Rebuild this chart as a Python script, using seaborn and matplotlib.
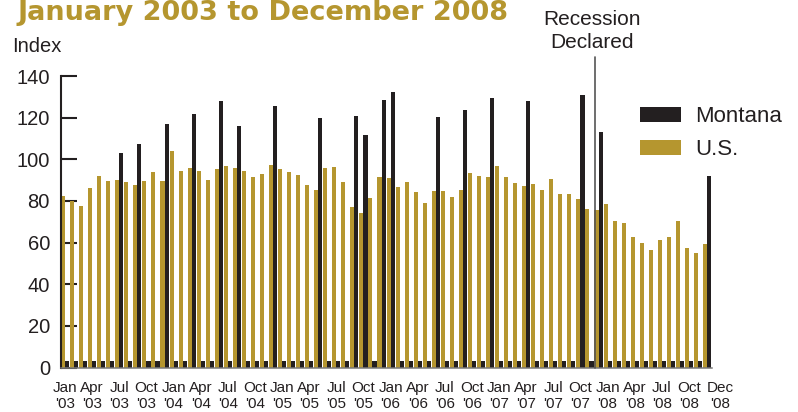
import matplotlib
matplotlib.use('Agg')
import matplotlib.pyplot as plt
import seaborn as sns
import pandas as pd
from matplotlib.transforms import ScaledTranslation

GOLD = '#B5962F'
BLACK = '#231F20'

# 72 months, Jan 2003 .. Dec 2008
months = list(pd.date_range('2003-01-01', periods=72, freq='MS').strftime('%Y-%m'))

us = [82.2, 79.8, 77.5, 86.2, 91.8, 89.4, 89.9, 88.9, 87.5, 89.4, 93.8, 89.4,
      104.0, 94.2, 95.7, 94.2, 89.9, 95.2, 96.6, 95.7, 94.2, 91.3, 92.8, 97.1,
      95.2, 93.8, 92.3, 87.5, 85.1, 95.7, 96.2, 88.9, 76.9, 74.0, 81.2, 91.3,
      90.9, 86.5, 88.9, 84.1, 78.8, 84.6, 84.6, 81.7, 85.1, 93.3, 91.8, 91.3,
      96.6, 91.3, 88.5, 87.0, 88.0, 85.1, 90.4, 83.2, 83.2, 80.8, 75.9, 75.5,
      78.3, 70.6, 69.2, 62.5, 59.6, 56.2, 61.0, 62.9, 70.2, 57.6, 55.2, 59.1]

montana = [3, 3, 3, 3, 3, 3, 102.9, 3, 107.2, 3, 3, 116.9,
           3, 3, 121.7, 3, 3, 128.0, 3, 115.9, 3, 3, 3, 125.5,
           3, 3, 3, 3, 119.8, 3, 3, 3, 120.7, 111.6, 3, 128.4,
           132.3, 3, 3, 3, 3, 120.2, 3, 3, 123.6, 3, 3, 129.4,
           3, 3, 3, 127.9, 3, 3, 3, 3, 3, 130.8, 3, 113.0,
           3, 3, 3, 3, 3, 3, 3, 3, 3, 3, 3, 91.8]

tick_months = ['2003-01', '2003-04', '2003-07', '2003-10',
               '2004-01', '2004-04', '2004-07', '2004-10',
               '2005-01', '2005-04', '2005-07', '2005-10',
               '2006-01', '2006-04', '2006-07', '2006-10',
               '2007-01', '2007-04', '2007-07', '2007-10',
               '2008-01', '2008-04', '2008-07', '2008-10', '2008-12']
tick_labels = ["Jan\n'03", "Apr\n'03", "Jul\n'03", "Oct\n'03",
               "Jan\n'04", "Apr\n'04", "Jul\n'04", "Oct\n'04",
               "Jan\n'05", "Apr\n'05", "Jul\n'05", "Oct\n'05",
               "Jan\n'06", "Apr\n'06", "Jul\n'06", "Oct\n'06",
               "Jan\n'07", "Apr\n'07", "Jul\n'07", "Oct\n'07",
               "Jan\n'08", "Apr\n'08", "Jul\n'08", "Oct\n'08", "Dec\n'08"]

recession_month = '2007-12'

sns.set_theme(style='white')
plt.rcParams['font.family'] = ['Liberation Sans', 'DejaVu Sans']

fig = plt.figure(figsize=(7.98, 4.12), dpi=100)
ax = fig.add_axes([61 / 798, 44.5 / 412, 651 / 798, 291.5 / 412])

df = pd.DataFrame({
    'month': months * 2,
    'series': ['U.S.'] * len(us) + ['Montana'] * len(montana),
    'value': us + montana,
})

sns.barplot(data=df, x='month', y='value', hue='series', order=months,
            hue_order=['U.S.', 'Montana'],
            palette={'U.S.': GOLD, 'Montana': BLACK},
            width=0.9, linewidth=0, saturation=1, ax=ax)

ax.set_xlim(-0.45, 71.55)
ax.set_ylim(0, 140)
ax.set_xlabel('')
ax.set_ylabel('')

ax.set_yticks(range(0, 141, 20))
ax.tick_params(axis='y', direction='in', length=11.5, width=1.5, color=BLACK,
               pad=8, labelsize=14.5, labelcolor=BLACK, left=True)
pos = [months.index(m) for m in tick_months]
ax.set_xticks(pos, tick_labels)
ax.tick_params(axis='x', length=0, pad=9.5, labelsize=11, labelcolor=BLACK)
for t in ax.get_xticklabels():
    t.set_linespacing(1.2)
last = ax.get_xticklabels()[-1]
last.set_transform(last.get_transform() + ScaledTranslation(13 / 100, 0, fig.dpi_scale_trans))

for s in ['top', 'right']:
    ax.spines[s].set_visible(False)
ax.spines['left'].set_color(BLACK)
ax.spines['left'].set_linewidth(1.5)
ax.spines['bottom'].set_color('#7a7a7a')
ax.spines['bottom'].set_linewidth(1.1)

handles, labels = ax.get_legend_handles_labels()
if ax.get_legend() is not None:
    ax.get_legend().remove()
hmap = dict(zip(labels, handles))
fig.legend([hmap['Montana'], hmap['U.S.']], ['Montana', 'U.S.'],
           loc='upper left', bbox_to_anchor=(640 / 798, 1 - 106 / 412),
           frameon=False, fontsize=16, handlelength=1.85, handleheight=0.68,
           handletextpad=0.63, labelspacing=0.55, borderpad=0, borderaxespad=0,
           labelcolor=BLACK)

# recession marker
rx = months.index(recession_month) - 0.4
ax.axvline(rx, ymin=0, ymax=(367.5 - 57) / 291.5, color='#555555', lw=1.2,
           clip_on=False, zorder=3)
fig.text(592 / 798, 1 - 31 / 412, 'Recession\nDeclared', ha='center',
         va='center', fontsize=15, color=BLACK, linespacing=1.3)

fig.text(17 / 798, 1 - 20 / 412, 'January 2003 to December 2008',
         fontsize=19.5, fontweight='bold', family='DejaVu Sans', color=GOLD,
         va='baseline', ha='left')
fig.text(12 / 798, 1 - 46 / 412, 'Index', fontsize=14.5, va='center',
         ha='left', color=BLACK)

fig.savefig('out.png', dpi=100)
